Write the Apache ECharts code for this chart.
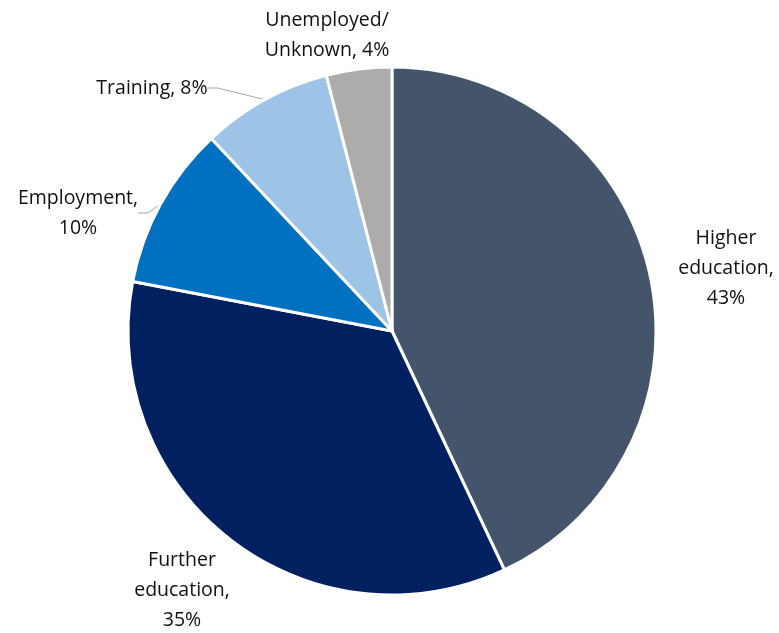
<!DOCTYPE html>
<html>
<head>
<meta charset="utf-8">
<script src="https://cdn.jsdelivr.net/npm/echarts@6/dist/echarts.min.js"></script>
<style>html,body{margin:0;padding:0;background:#fff;}#c{width:779px;height:633px;}</style>
</head>
<body>
<div id="c"></div>
<script>
const categories = ['Higher education', 'Further education', 'Employment', 'Training', 'Unemployed/Unknown'];
const values = [43, 35, 10, 8, 4];
const labelTexts = ['Higher\neducation,\n43%', 'Further\neducation,\n35%', 'Employment,\n10%', 'Training, 8%', 'Unemployed/\nUnknown, 4%'];
const colors = ['#44546A', '#002060', '#0070C0', '#9DC3E6', '#AEABAB'];
const labelPos = [[726, 268], [182, 590], [78, 213], [152, 88], [327, 35]];
const showLine = [false, false, true, true, false];

const chart = echarts.init(document.getElementById('c'), null, {renderer: 'canvas'});
chart.setOption({
  animation: false,
  backgroundColor: '#ffffff',
  series: [{
    type: 'pie',
    center: [392, 331],
    radius: [0, 264],
    startAngle: 90,
    clockwise: true,
    avoidLabelOverlap: false,
    itemStyle: {borderColor: '#ffffff', borderWidth: 3},
    label: {
      show: true,
      position: 'outside',
      fontFamily: 'Open Sans',
      fontSize: 19.5,
      lineHeight: 30,
      color: '#111111',
      align: 'center',
      formatter: p => labelTexts[p.dataIndex]
    },
    labelLine: {show: true, length: 10, length2: 10, lineStyle: {color: '#A6A6A6', width: 1}},
    labelLayout: p => ({x: labelPos[p.dataIndex][0], y: labelPos[p.dataIndex][1], align: 'center', verticalAlign: 'middle'}),
    data: categories.map((c, i) => ({
      name: c,
      value: values[i],
      itemStyle: {color: colors[i]},
      labelLine: {show: showLine[i]}
    }))
  }]
});
</script>
</body>
</html>
